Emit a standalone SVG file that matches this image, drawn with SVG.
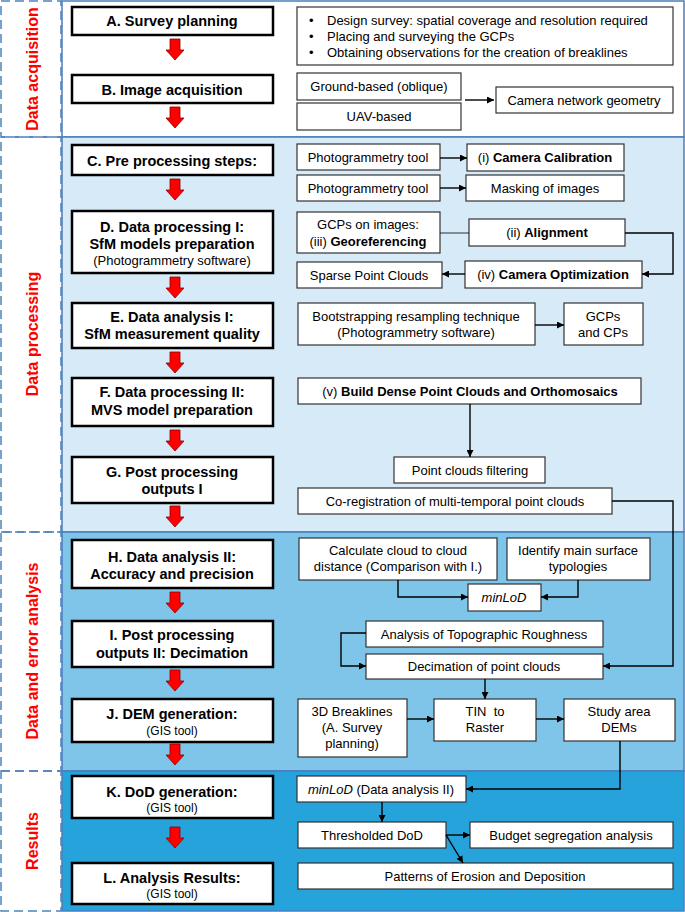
<svg xmlns="http://www.w3.org/2000/svg" width="685" height="912" viewBox="0 0 685 912">
<defs>
<marker id="ah" viewBox="0 0 10 10" refX="10" refY="5" markerWidth="7" markerHeight="7" markerUnits="userSpaceOnUse" orient="auto"><path d="M0,0 L10,5 L0,10 Z" fill="#000"/></marker>
<path id="ra" d="M-5,0 H5 V11 H9 L0,21 L-9,11 H-5 Z"/>
<style>
.lb{fill:none;stroke:#4F81BD;stroke-width:1.5;stroke-dasharray:9 5}
.pn{stroke:#4A7EBB;stroke-width:1.5}
.lt{font-family:"Liberation Sans",Arial,sans-serif;font-weight:bold;font-size:16px;fill:#FF0000;text-anchor:middle}
.mb{fill:#fff;stroke:#000;stroke-width:2.5}
.sb{fill:#fff;stroke:#333;stroke-width:1.2}
.mt{font-family:"Liberation Sans",Arial,sans-serif;font-weight:bold;font-size:14.5px;fill:#000;text-anchor:middle}
.ms{font-family:"Liberation Sans",Arial,sans-serif;font-size:12px;fill:#000;text-anchor:middle}
.st{font-family:"Liberation Sans",Arial,sans-serif;font-size:13px;fill:#000;text-anchor:middle}
.stl{font-family:"Liberation Sans",Arial,sans-serif;font-size:13px;fill:#000}
.b{font-weight:bold}
.i{font-style:italic}
.ar{fill:#FF0000;stroke:#8B0000;stroke-width:0.8}
.cn{fill:none;stroke:#000;stroke-width:1.4}
</style>
</defs>

<g id="panels">
<rect x="62" y="1" width="622" height="136" fill="#FFFFFF" class="pn"/>
<rect x="62" y="137" width="622" height="395" fill="#D6EBF7" class="pn"/>
<rect x="62" y="532" width="622" height="239" fill="#7EC5E9" class="pn"/>
<rect x="62" y="771" width="622" height="140" fill="#27A3DC" class="pn"/>
</g>

<g id="stage-labels">
<rect x="1" y="1" width="60" height="136" class="lb"/>
<rect x="1" y="137" width="60" height="395" class="lb"/>
<rect x="1" y="532" width="60" height="239" class="lb"/>
<rect x="1" y="771" width="60" height="140" class="lb"/>
<text class="lt" transform="translate(38,69) rotate(-90)">Data acquisition</text>
<text class="lt" transform="translate(38,334) rotate(-90)">Data processing</text>
<text class="lt" transform="translate(38,651) rotate(-90)">Data and error analysis</text>
<text class="lt" transform="translate(38,841) rotate(-90)">Results</text>
</g>

<g id="flow-arrows">
<use href="#ra" class="ar" x="175" y="39"/>
<use href="#ra" class="ar" x="175" y="107"/>
<use href="#ra" class="ar" x="175" y="179"/>
<use href="#ra" class="ar" x="175" y="277"/>
<use href="#ra" class="ar" x="175" y="352"/>
<use href="#ra" class="ar" x="175" y="430"/>
<use href="#ra" class="ar" x="175" y="506"/>
<use href="#ra" class="ar" x="175" y="592"/>
<use href="#ra" class="ar" x="175" y="670"/>
<use href="#ra" class="ar" x="175" y="744"/>
<use href="#ra" class="ar" x="175" y="827"/>
</g>

<g id="nodeA"><rect class="mb" x="72" y="7" width="201" height="28"/><text class="mt" x="172" y="26">A. Survey planning</text></g>
<g id="nodeB"><rect class="mb" x="72" y="75" width="201" height="28"/><text class="mt" x="172" y="95">B. Image acquisition</text></g>
<g id="nodeC"><rect class="mb" x="72" y="145" width="201" height="30"/><text class="mt" x="172" y="166">C. Pre processing steps:</text></g>
<g id="nodeD"><rect class="mb" x="72" y="211" width="201" height="62"/><text class="mt" x="172" y="232">D. Data processing I:</text><text class="mt" x="172" y="249">SfM models preparation</text><text class="st" x="172" y="265">(Photogrammetry software)</text></g>
<g id="nodeE"><rect class="mb" x="72" y="303" width="201" height="45"/><text class="mt" x="172" y="322">E. Data analysis I:</text><text class="mt" x="172" y="339">SfM measurement quality</text></g>
<g id="nodeF"><rect class="mb" x="72" y="378" width="201" height="48"/><text class="mt" x="172" y="397">F. Data processing II:</text><text class="mt" x="172" y="415">MVS model preparation</text></g>
<g id="nodeG"><rect class="mb" x="72" y="457" width="201" height="46"/><text class="mt" x="172" y="477">G. Post processing</text><text class="mt" x="172" y="494">outputs I</text></g>
<g id="nodeH"><rect class="mb" x="72" y="540" width="201" height="48"/><text class="mt" x="172" y="562">H. Data analysis II:</text><text class="mt" x="172" y="579">Accuracy and precision</text></g>
<g id="nodeI"><rect class="mb" x="72" y="621" width="201" height="46"/><text class="mt" x="172" y="640">I. Post processing</text><text class="mt" x="172" y="658">outputs II: Decimation</text></g>
<g id="nodeJ"><rect class="mb" x="72" y="699" width="201" height="43"/><text class="mt" x="172" y="719">J. DEM generation:</text><text class="ms" x="172" y="735">(GIS tool)</text></g>
<g id="nodeK"><rect class="mb" x="72" y="776" width="201" height="42"/><text class="mt" x="172" y="797">K. DoD generation:</text><text class="ms" x="172" y="812">(GIS tool)</text></g>
<g id="nodeL"><rect class="mb" x="72" y="863" width="201" height="41"/><text class="mt" x="172" y="883">L. Analysis Results:</text><text class="ms" x="172" y="898">(GIS tool)</text></g>

<g id="n-design"><rect class="sb" x="297" y="7" width="376" height="58"/>
<text class="stl" x="309" y="25">•</text><text class="stl" x="327" y="25">Design survey: spatial coverage and resolution required</text>
<text class="stl" x="309" y="41">•</text><text class="stl" x="327" y="41">Placing and surveying the GCPs</text>
<text class="stl" x="309" y="57">•</text><text class="stl" x="327" y="57">Obtaining observations for the creation of breaklines</text></g>
<g id="n-ground"><rect class="sb" x="297" y="73" width="164" height="27"/><text class="st" x="379" y="91">Ground-based (oblique)</text></g>
<g id="n-uav"><rect class="sb" x="297" y="103" width="164" height="27"/><text class="st" x="379" y="121">UAV-based</text></g>
<g id="n-camnet"><rect class="sb" x="496" y="87" width="177" height="26"/><text class="st" x="584" y="105">Camera network geometry</text></g>

<g id="n-ptool1"><rect class="sb" x="297" y="144" width="143" height="26"/><text class="st" x="368" y="162">Photogrammetry tool</text></g>
<g id="n-calib"><rect class="sb" x="467" y="144" width="157" height="27"/><text class="st" x="545" y="162"><tspan>(i) </tspan><tspan class="b">Camera Calibration</tspan></text></g>
<g id="n-ptool2"><rect class="sb" x="297" y="175" width="143" height="26"/><text class="st" x="368" y="193">Photogrammetry tool</text></g>
<g id="n-mask"><rect class="sb" x="466" y="175" width="158" height="26"/><text class="st" x="545" y="193">Masking of images</text></g>
<g id="n-gcps"><rect class="sb" x="297" y="212" width="143" height="41"/><text class="st" x="368" y="229">GCPs on images:</text><text class="st" x="368" y="246"><tspan>(iii) </tspan><tspan class="b">Georeferencing</tspan></text></g>
<g id="n-align"><rect class="sb" x="469" y="219" width="156" height="27"/><text class="st" x="547" y="237"><tspan>(ii) </tspan><tspan class="b">Alignment</tspan></text></g>
<g id="n-sparse"><rect class="sb" x="297" y="262" width="145" height="26"/><text class="st" x="369" y="280">Sparse Point Clouds</text></g>
<g id="n-camopt"><rect class="sb" x="465" y="261" width="177" height="27"/><text class="st" x="553" y="279"><tspan>(iv) </tspan><tspan class="b">Camera Optimization</tspan></text></g>

<g id="n-boot"><rect class="sb" x="298" y="303" width="237" height="42"/><text class="st" x="416" y="321">Bootstrapping resampling technique</text><text class="st" x="416" y="337">(Photogrammetry software)</text></g>
<g id="n-gcpcp"><rect class="sb" x="564" y="303" width="79" height="42"/><text class="st" x="603" y="321">GCPs</text><text class="st" x="603" y="337">and CPs</text></g>
<g id="n-dense"><rect class="sb" x="298" y="378" width="343" height="26"/><text class="st" x="470" y="396"><tspan>(v) </tspan><tspan class="b">Build Dense Point Clouds and Orthomosaics</tspan></text></g>
<g id="n-filter"><rect class="sb" x="394" y="457" width="151" height="26"/><text class="st" x="470" y="475">Point clouds filtering</text></g>
<g id="n-coreg"><rect class="sb" x="298" y="488" width="314" height="26"/><text class="st" x="455" y="506">Co-registration of multi-temporal point clouds</text></g>

<g id="n-calc"><rect class="sb" x="299" y="538" width="198" height="42"/><text class="st" x="398" y="555">Calculate cloud to cloud</text><text class="st" x="398" y="571">distance (Comparison with I.)</text></g>
<g id="n-ident"><rect class="sb" x="507" y="538" width="143" height="42"/><text class="st" x="578" y="555">Identify main surface</text><text class="st" x="578" y="571">typologies</text></g>
<g id="n-minlod"><rect class="sb" x="468" y="584" width="73" height="27"/><text class="st i" x="504" y="602">minLoD</text></g>
<g id="n-rough"><rect class="sb" x="366" y="621" width="237" height="26"/><text class="st" x="484" y="639">Analysis of Topographic Roughness</text></g>
<g id="n-decim"><rect class="sb" x="366" y="654" width="237" height="25"/><text class="st" x="484" y="671">Decimation of point clouds</text></g>
<g id="n-break"><rect class="sb" x="298" y="699" width="109" height="58"/><text class="st" x="352" y="716">3D Breaklines</text><text class="st" x="352" y="732">(A. Survey</text><text class="st" x="352" y="748">planning)</text></g>
<g id="n-tin"><rect class="sb" x="434" y="699" width="102" height="42"/><text class="st" x="485" y="716" xml:space="preserve">TIN  to</text><text class="st" x="485" y="732">Raster</text></g>
<g id="n-dems"><rect class="sb" x="564" y="699" width="111" height="42"/><text class="st" x="619" y="716">Study area</text><text class="st" x="619" y="732">DEMs</text></g>

<g id="n-minlod2"><rect class="sb" x="297" y="776" width="169" height="26"/><text class="st" x="381" y="794"><tspan class="i">minLoD</tspan> (Data analysis II)</text></g>
<g id="n-thresh"><rect class="sb" x="298" y="822" width="148" height="26"/><text class="st" x="372" y="840">Thresholded DoD</text></g>
<g id="n-budget"><rect class="sb" x="470" y="822" width="203" height="26"/><text class="st" x="571" y="840">Budget segregation analysis</text></g>
<g id="n-patterns"><rect class="sb" x="298" y="863" width="375" height="26"/><text class="st" x="485" y="881">Patterns of Erosion and Deposition</text></g>

<g id="connectors">
<path class="cn" d="M465,100 H494" marker-end="url(#ah)"/>
<path class="cn" d="M440,158 H467" marker-end="url(#ah)"/>
<path class="cn" d="M440,188 H466" marker-end="url(#ah)"/>
<path class="cn" d="M440,233 H469" style="stroke-width:0.8"/>
<path class="cn" d="M625,233 H673 V274 H642" marker-end="url(#ah)"/>
<path class="cn" d="M465,274 H442" marker-end="url(#ah)"/>
<path class="cn" d="M535,325 H564" marker-end="url(#ah)"/>
<path class="cn" d="M470,404 V457" marker-end="url(#ah)"/>
<path class="cn" d="M612,501 H673 V666 H603" marker-end="url(#ah)"/>
<path class="cn" d="M398,580 V597 H468" marker-end="url(#ah)"/>
<path class="cn" d="M578,580 V597 H541" marker-end="url(#ah)"/>
<path class="cn" d="M366,633 H341 V666 H366" marker-end="url(#ah)"/>
<path class="cn" d="M485,679 V699" marker-end="url(#ah)"/>
<path class="cn" d="M407,719 H434" marker-end="url(#ah)"/>
<path class="cn" d="M536,719 H564" marker-end="url(#ah)"/>
<path class="cn" d="M620,741 V789 H466" marker-end="url(#ah)"/>
<path class="cn" d="M382,802 V822" marker-end="url(#ah)"/>
<path class="cn" d="M446,835 H470" marker-end="url(#ah)"/>
<path class="cn" d="M446,835 L463,863" marker-end="url(#ah)"/>
</g>
</svg>
